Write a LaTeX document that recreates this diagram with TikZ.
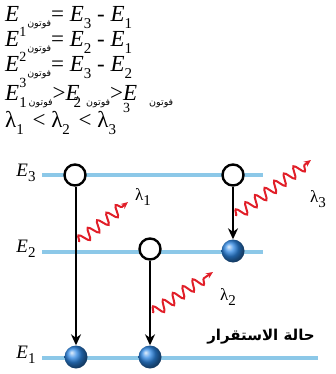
\documentclass[tikz,border=0pt]{standalone}
\usepackage{fontspec}
\setmainfont{Liberation Serif}
\newfontfamily\arabicfont[Script=Arabic]{DejaVu Sans}
\TeXXeTstate=1
\usetikzlibrary{decorations.pathmorphing,arrows.meta}
\newcommand{\ph}{\raisebox{-5pt}{\arabicfont\fontsize{9.5}{10}\selectfont\beginR فوتون\endR}}
\newcommand{\lo}[1]{\raisebox{-0.28em}{\fontsize{15}{16}\selectfont #1}}
\newcommand{\hi}[1]{\raisebox{0.45em}{\fontsize{14}{15}\selectfont #1}}
\definecolor{lvl}{RGB}{140,200,232}
\definecolor{wred}{RGB}{225,30,40}
\definecolor{bblue}{RGB}{45,135,228}
\tikzset{
  eqtext/.style={anchor=base west, inner sep=0pt, font=\fontsize{23}{26}\selectfont},
  level/.style={draw=lvl, line width=4.5pt},
  openc/.style={circle, draw=black, line width=2.4pt, fill=white, minimum size=21pt, inner sep=0pt},
  ballc/.style={circle, shading=ball, ball color=bblue, minimum size=23pt, inner sep=0pt},
  trans/.style={draw=black, line width=2.8pt, -{Stealth[length=11pt,width=10pt]}},
  wave/.style={draw=wred, line width=2pt, -{Stealth[length=7pt,width=6pt]},
    decorate, decoration={snake, amplitude=5.5pt, segment length=12pt, post length=6pt}},
  elab/.style={font=\fontsize{19}{21}\selectfont, inner sep=0pt},
  lamlab/.style={font=\fontsize{17}{19}\selectfont, inner sep=0pt}
}
\begin{document}
\begin{tikzpicture}[x=1pt,y=-1pt]
\useasboundingbox (0,0) rectangle (335,374);
% equations
\node[eqtext] (l1) at (5,22) {\textit{E}\hspace{8pt}\ph= \textit{E}\lo{3} - \textit{E}\lo{1}};
\node[eqtext] (l2) at (5,47) {\textit{E}\hi{1}\hspace{1pt}\ph= \textit{E}\lo{2} - \textit{E}\lo{1}};
\node[eqtext] (l3) at (5,72) {\textit{E}\hi{2}\hspace{1pt}\ph= \textit{E}\lo{3} - \textit{E}\lo{2}};
\node[eqtext] (l4) at (5,101) {\textit{E}\rlap{\raisebox{0.6em}{\fontsize{14}{15}\selectfont 3}}\lo{1}\hspace{2pt}\ph>\textit{E}\hspace{-6pt}\lo{2}\hspace{5pt}\ph>\textit{E}\hspace{-14pt}\raisebox{-0.5em}{\fontsize{14}{15}\selectfont 3}\hspace{19pt}\ph};
\node[eqtext] (l5) at (5,128) {λ\lo{1}\hspace{3pt} < λ\lo{2}\hspace{3pt} < λ\lo{3}};
% levels
\node[elab] (e3) at (26,173) {\textit{E}\lo{3}};
\node[elab] (e2) at (26,249) {\textit{E}\lo{2}};
\node[elab] (e1) at (26,355) {\textit{E}\lo{1}};
\coordinate (e3a) at (42,175); \coordinate (e3b) at (263,175);
\coordinate (e2a) at (42,252); \coordinate (e2b) at (263,252);
\coordinate (e1a) at (42,358); \coordinate (e1b) at (318,358);
\draw[level] (e3a) -- (e3b);
\draw[level] (e2a) -- (e2b);
\draw[level] (e1a) -- (e1b);
\node[font=\arabicfont\bfseries\fontsize{15}{17}\selectfont, inner sep=0pt] (st) at (261,337) {\beginR حالة الاستقرار\endR};
% states
\node[openc] (c1) at (75,175) {};
\node[openc] (c2) at (233,175) {};
\node[openc] (c3) at (150,249) {};
\node[ballc] (b1) at (233,251) {};
\node[ballc] (b2) at (76,357) {};
\node[ballc] (b3) at (150,357) {};
\draw[trans] (c1.south -| b2) -- (b2);
\draw[trans] (c3) -- (b3);
\draw[trans] (c2) -- (b1);
% photons
\coordinate (w1a) at (79,242); \coordinate (w1b) at (128,202);
\coordinate (w3a) at (236,216); \coordinate (w3b) at (311,160);
\coordinate (w2a) at (153,313); \coordinate (w2b) at (213,272);
\draw[wave] (w1a) -- (w1b);
\draw[wave] (w3a) -- (w3b);
\draw[wave] (w2a) -- (w2b);
\node[lamlab] (lam1) at (143,197) {λ\lo{1}};
\node[lamlab] (lam3) at (318,199) {λ\lo{3}};
\node[lamlab] (lam2) at (228,297) {λ\lo{2}};
\end{tikzpicture}
\end{document}
